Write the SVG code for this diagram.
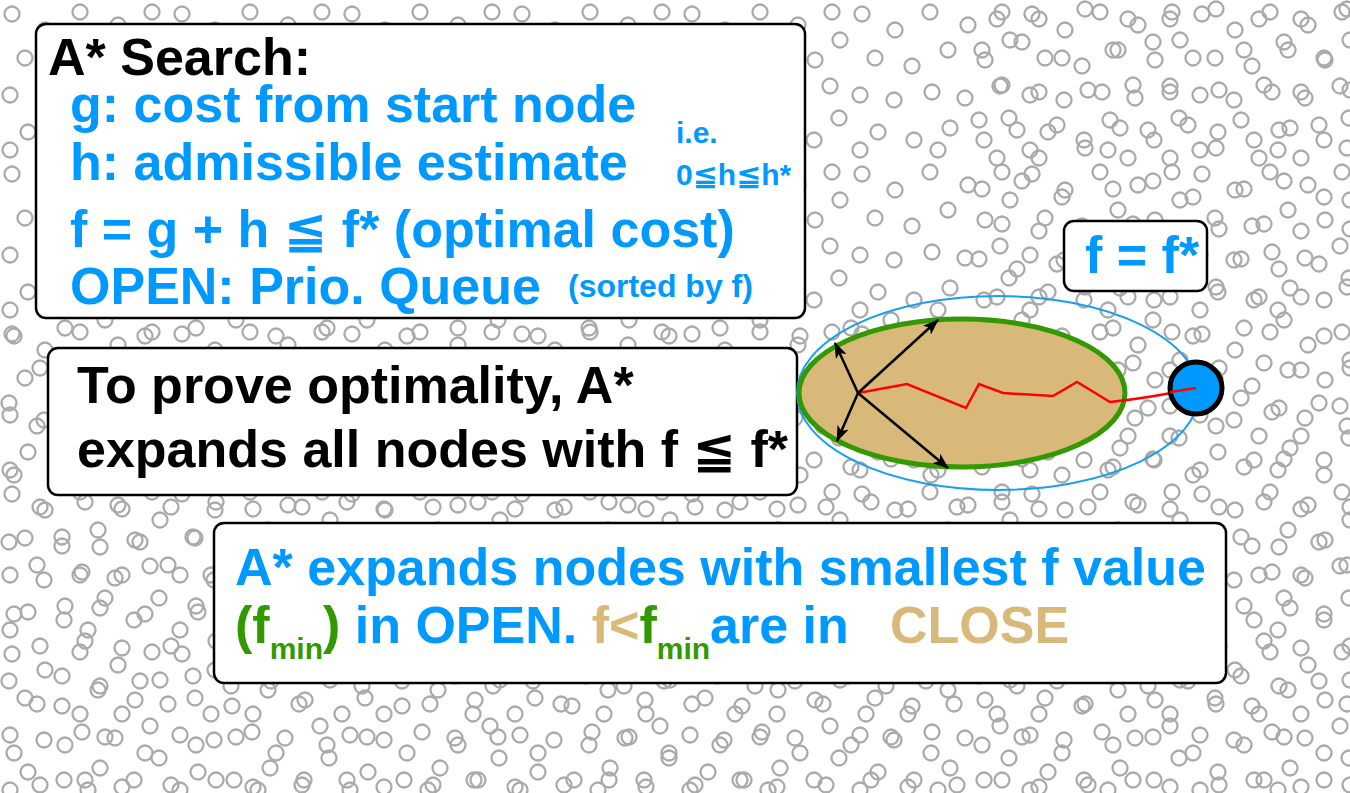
<svg xmlns="http://www.w3.org/2000/svg" width="1350" height="793" viewBox="0 0 1350 793">
<style>
.bg{fill:#fff}
.c{fill:none;stroke:#aaa;stroke-width:2.3}
.box{fill:#fff;stroke:#000;stroke-width:2.5}
.t{font-family:"Liberation Sans","DejaVu Sans",sans-serif;font-weight:bold;font-size:52px}
.k{fill:#000}
.b{fill:#0099ff}
.g{fill:#339900}
.n{fill:#d8b97a}
.s{font-size:30px}
.sub{font-size:30px}
.arr{stroke:#000;stroke-width:2.5;fill:none;marker-end:url(#ah)}
</style>
<defs>
<pattern id="pA" width="170" height="160" patternUnits="userSpaceOnUse">
<circle class="c" cx="12" cy="14" r="7.5"/><circle class="c" cx="45" cy="30" r="7.5"/><circle class="c" cx="80" cy="12" r="7.5"/><circle class="c" cx="118" cy="25" r="7.5"/><circle class="c" cx="152" cy="12" r="7.5"/>
<circle class="c" cx="25" cy="58" r="7.5"/><circle class="c" cx="62" cy="66" r="7.5"/><circle class="c" cx="98" cy="50" r="7.5"/><circle class="c" cx="135" cy="60" r="7.5"/><circle class="c" cx="160" cy="40" r="7.5"/>
<circle class="c" cx="10" cy="95" r="7.5"/><circle class="c" cx="44" cy="100" r="7.5"/><circle class="c" cx="82" cy="92" r="7.5"/><circle class="c" cx="115" cy="98" r="7.5"/><circle class="c" cx="150" cy="86" r="7.5"/>
<circle class="c" cx="28" cy="132" r="7.5"/><circle class="c" cx="64" cy="140" r="7.5"/><circle class="c" cx="100" cy="128" r="7.5"/><circle class="c" cx="134" cy="140" r="7.5"/><circle class="c" cx="159" cy="118" r="7.5"/>
<circle class="c" cx="10" cy="150" r="7.5"/><circle class="c" cx="88" cy="150" r="7.5"/>
</pattern>
<pattern id="pB" x="50" y="30" width="131" height="139" patternUnits="userSpaceOnUse">
<circle class="c" cx="15" cy="20" r="7.5"/><circle class="c" cx="55" cy="12" r="7.5"/><circle class="c" cx="95" cy="28" r="7.5"/><circle class="c" cx="121" cy="60" r="7.5"/>
<circle class="c" cx="35" cy="55" r="7.5"/><circle class="c" cx="72" cy="62" r="7.5"/><circle class="c" cx="12" cy="90" r="7.5"/><circle class="c" cx="50" cy="100" r="7.5"/>
<circle class="c" cx="90" cy="95" r="7.5"/><circle class="c" cx="118" cy="118" r="7.5"/><circle class="c" cx="30" cy="128" r="7.5"/><circle class="c" cx="72" cy="128" r="7.5"/>
</pattern>
<marker id="ah" viewBox="0 0 16 12" refX="15" refY="6" markerWidth="16" markerHeight="12" markerUnits="userSpaceOnUse" orient="auto">
<path d="M0,0 L16,6 L0,12 L4,6 z" fill="#000"/>
</marker>
</defs>
<rect class="bg" width="1350" height="793"/>
<g id="background">
<rect width="1350" height="793" fill="url(#pA)"/>
<rect x="0" y="308" width="1350" height="485" fill="url(#pB)"/>
<rect x="967" y="0" width="383" height="308" fill="url(#pB)"/>
</g>
<g id="astar-box">
<rect class="box" x="36" y="24" width="769" height="294" rx="10"/>
<text class="t k" x="48" y="75">A* Search:</text>
<text class="t b" x="70" y="122">g: cost from start node</text>
<text class="t b" x="70" y="180">h: admissible estimate</text>
<text class="t b s" x="676" y="143">i.e.</text>
<text class="t b s" x="676" y="185">0≦h≦h*</text>
<text class="t b" x="70" y="247">f = g + h ≦ f* (optimal cost)</text>
<text class="t b" x="70" y="304">OPEN: Prio. Queue</text>
<text class="t b" x="568" y="297" style="font-size:32px">(sorted by f)</text>
</g>
<g id="fstar-box">
<rect class="box" x="1064" y="221" width="143" height="70" rx="10"/>
<text class="t b" x="1085" y="273">f = f*</text>
</g>
<g id="prove-box">
<rect class="box" x="48" y="348" width="749" height="147" rx="10"/>
<text class="t k" x="77" y="403">To prove optimality, A*</text>
<text class="t k" x="77" y="467">expands all nodes with f ≦ f*</text>
</g>
<g id="expand-box">
<rect class="box" x="214" y="523" width="1012" height="160" rx="10"/>
<text class="t b" x="235" y="585">A* expands nodes with smallest f value</text>
<text class="t" x="235" y="643"><tspan class="g">(f</tspan><tspan class="g sub" dy="16">min</tspan><tspan class="g" dy="-16">)</tspan><tspan class="b"> in OPEN. </tspan><tspan class="n">f&lt;</tspan><tspan class="g">f</tspan><tspan class="g sub" dy="16">min</tspan><tspan class="b" dy="-16">are in</tspan></text>
<text class="t n" x="890" y="643">CLOSE</text>
</g>
<g id="fstar-contour">
<ellipse cx="998" cy="393" rx="201" ry="97" fill="none" stroke="#1a9ff0" stroke-width="2"/>
</g>
<g id="closed-set">
<ellipse cx="962" cy="393" rx="163" ry="74" fill="#d8b97a" stroke="#339900" stroke-width="5"/>
</g>
<g id="connectors">
<path d="M858,393 L907,384 L966,408 L979,384 L1003,393 L1053,396 L1077,382 L1110,402 Q1150,398 1196,388" fill="none" stroke="#ff0000" stroke-width="2.5"/>
<line class="arr" x1="858" y1="393" x2="835" y2="343"/>
<line class="arr" x1="858" y1="393" x2="938" y2="320"/>
<line class="arr" x1="858" y1="393" x2="837" y2="441"/>
<line class="arr" x1="858" y1="393" x2="948" y2="468"/>
</g>
<g id="goal-node">
<circle cx="1196" cy="388" r="26" fill="#0099ff" stroke="#000" stroke-width="5"/>
<path d="M1170,392 Q1184,390 1196,388" fill="none" stroke="#ff0000" stroke-width="2.5"/>
</g>
</svg>
